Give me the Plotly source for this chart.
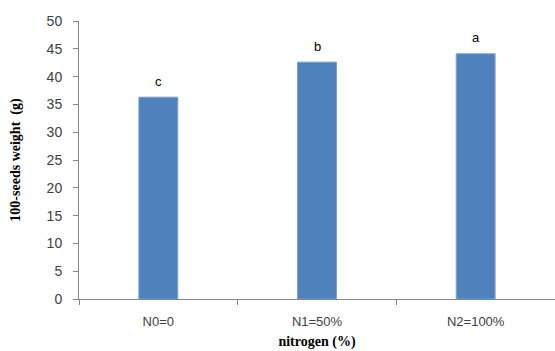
import plotly.graph_objects as go

# Nitrogen treatments and mean 100-seed weight (g)
categories = ["N0=0", "N1=50%", "N2=100%"]
seed_weight = [36.3, 42.6, 44.1]
letters = ["c", "b", "a"]

y_ticks = [0, 5, 10, 15, 20, 25, 30, 35, 40, 45, 50]

fig = go.Figure()
fig.add_trace(go.Bar(
    x=categories,
    y=seed_weight,
    width=0.245,
    marker=dict(color="#4F81BD", line=dict(color="#7A9FD3", width=1)),
    hoverinfo="x+y",
))

# Significance letters above each bar
for cat, val, lab in zip(categories, seed_weight, letters):
    fig.add_annotation(
        x=cat, y=val, text=lab, showarrow=False,
        yshift=16, font=dict(family="Liberation Sans", size=13, color="#000000"),
    )

fig.update_layout(
    width=555, height=351,
    margin=dict(l=79, r=0, t=21, b=52),
    plot_bgcolor="white", paper_bgcolor="white",
    showlegend=False,
    bargap=0.5,
)
fig.update_xaxes(
    type="category",
    showline=True, linecolor="#868686", linewidth=1,
    ticks="outside", ticklen=5, tickcolor="#868686",
    tickson="boundaries",
    ticklabelstandoff=10,
    tickfont=dict(family="Liberation Sans", size=13, color="#404040"),
    title=dict(text="<b>nitrogen (%)</b>",
               font=dict(family="Liberation Serif", size=14, color="#000000"),
               standoff=8),
    showgrid=False,
)
fig.update_yaxes(
    range=[0, 50],
    tickvals=y_ticks,
    showline=True, linecolor="#868686", linewidth=1,
    ticks="outside", ticklen=5, tickcolor="#868686",
    ticklabelstandoff=8,
    tickfont=dict(family="Liberation Sans", size=14, color="#404040"),
    title=dict(text="<b>100-seeds weight  (g)</b>",
               font=dict(family="Liberation Serif", size=14, color="#000000"),
               standoff=22),
    showgrid=False, zeroline=False,
)

fig.write_html("out.html")
